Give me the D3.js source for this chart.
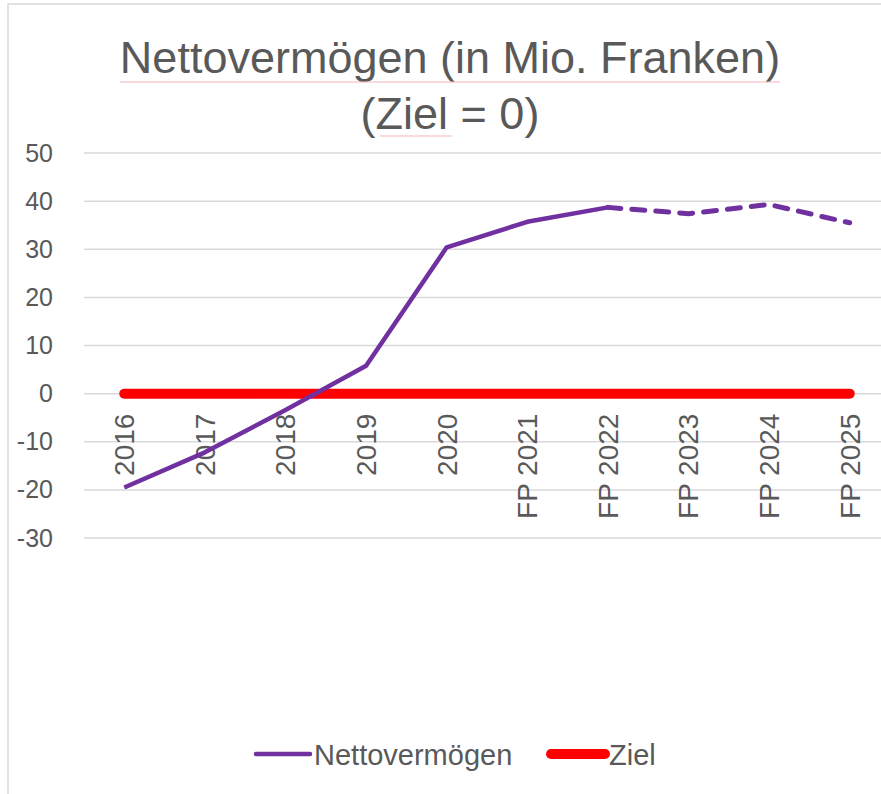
<!DOCTYPE html>
<html>
<head>
<meta charset="utf-8">
<script src="https://cdn.jsdelivr.net/npm/d3@7"></script>
<style>
  body { margin: 0; background: #fff; }
  text { font-family: "Liberation Sans", Arial, sans-serif; fill: #595959; }
</style>
</head>
<body>
<svg></svg>
<script>
/* data */
var categories = ['2016', '2017', '2018', '2019', '2020',
                  'FP 2021', 'FP 2022', 'FP 2023', 'FP 2024', 'FP 2025'];
var nettovermoegen = [-19.5, -12.2, -3.4, 5.8, 30.4, 35.7, 38.7, 37.4, 39.3, 35.5];
var ziel = [0, 0, 0, 0, 0, 0, 0, 0, 0, 0];
var yTicks = [-30, -20, -10, 0, 10, 20, 30, 40, 50];
var forecastStart = 6;  // from FP 2022 on the line is dashed

/* svg setting */
var svgWidth = 881;
var svgHeight = 794;
var margin = {top: 153, right: -9, bottom: 256, left: 84};
var width = svgWidth - margin.left - margin.right;
var height = svgHeight - margin.top - margin.bottom;
var scale = {};

var svg = d3.select('svg')
    .attr('width', svgWidth)
    .attr('height', svgHeight);

/* chart frame */
svg.append('path')
    .attr('d', 'M8,794 L8,4 L881,4')
    .attr('fill', 'none')
    .attr('stroke', '#d9d9d9')
    .attr('stroke-width', 1.5);

var g = svg.append('g')
    .attr('transform', translate(margin.left, margin.top));

setScale();
drawGrid();
drawAxis();
drawLines();
drawTitle();
drawLegend();

function setScale(){
  scale.x = d3.scalePoint()
      .domain(categories)
      .range([0, width])
      .padding(0.5);

  scale.y = d3.scaleLinear()
      .domain([-30, 50])
      .range([height, 0]);
}

function drawGrid(){
  g.selectAll('.grid')
      .data(yTicks)
      .enter()
      .append('line')
      .attr('class', 'grid')
      .attr('x1', 0)
      .attr('x2', width)
      .attr('y1', function(d){return scale.y(d)})
      .attr('y2', function(d){return scale.y(d)})
      .attr('stroke', '#d9d9d9')
      .attr('stroke-width', 1.5);
}

function drawAxis(){
  // plain hyphen for negatives, like the original
  var yAxis = g.append('g')
      .attr('class', 'y_axis')
      .call(d3.axisLeft(scale.y)
          .tickValues(yTicks)
          .tickFormat(function(d){return String(d)})
          .tickSize(0)
          .tickPadding(31));
  yAxis.select('.domain').remove();
  yAxis.selectAll('text')
      .attr('font-size', 25)
      .attr('font-family', null)
      .attr('fill', '#595959');

  // category labels sit rotated just under the zero line
  var xAxis = g.append('g')
      .attr('class', 'x_axis')
      .attr('transform', translate(0, scale.y(0) + 20));
  xAxis.selectAll('text')
      .data(categories)
      .enter()
      .append('text')
      .attr('transform', function(d){return translate(scale.x(d), 0) + ' rotate(-90)'})
      .attr('dy', '0.35em')
      .attr('x', 0)
      .attr('text-anchor', 'end')
      .attr('font-size', 28)
      .text(function(d){return d});
}

function drawLines(){
  var points = categories.map(function(c, i){
    return {x: c, y: nettovermoegen[i]};
  });
  var zielPoints = categories.map(function(c, i){
    return {x: c, y: ziel[i]};
  });
  var line = d3.line()
      .x(function(d){return scale.x(d.x)})
      .y(function(d){return scale.y(d.y)});

  g.append('path')
      .datum(zielPoints)
      .attr('d', line)
      .attr('fill', 'none')
      .attr('stroke', '#ff0000')
      .attr('stroke-width', 10)
      .attr('stroke-linecap', 'round');

  g.append('path')
      .datum(points.slice(0, forecastStart + 1))
      .attr('d', line)
      .attr('fill', 'none')
      .attr('stroke', '#7030a0')
      .attr('stroke-width', 4.5)
      .attr('stroke-linejoin', 'round');

  g.append('path')
      .datum(points.slice(forecastStart))
      .attr('d', line)
      .attr('fill', 'none')
      .attr('stroke', '#7030a0')
      .attr('stroke-width', 5)
      .attr('stroke-linecap', 'round')
      .attr('stroke-dasharray', '13,11');
}

function drawTitle(){
  var t1 = svg.append('text')
      .attr('x', 450)
      .attr('y', 73)
      .attr('text-anchor', 'middle')
      .attr('font-size', 45)
      .text('Nettovermögen (in Mio. Franken)');
  var t2 = svg.append('text')
      .attr('x', 450)
      .attr('y', 129)
      .attr('text-anchor', 'middle')
      .attr('font-size', 45)
      .text('(Ziel = 0)');

  // spell check underline
  var b1 = t1.node().getBBox();
  svg.append('line')
      .attr('x1', b1.x).attr('x2', b1.x + b1.width)
      .attr('y1', 82).attr('y2', 82)
      .attr('stroke', '#f3b3b3').attr('stroke-width', 1.2);
  svg.append('line')
      .attr('x1', 380).attr('x2', 452)
      .attr('y1', 136).attr('y2', 136)
      .attr('stroke', '#f3b3b3').attr('stroke-width', 1.2);
}

function drawLegend(){
  var legend = svg.append('g')
      .attr('transform', translate(0, 754));
  var items = [
    {name: 'Nettovermögen', color: '#7030a0', w: 4.5, x: 256},
    {name: 'Ziel', color: '#ff0000', w: 10, x: 551}
  ];
  var item = legend.selectAll('g')
      .data(items)
      .enter()
      .append('g')
      .attr('transform', function(d){return translate(d.x, 0)});
  item.append('line')
      .attr('x1', 0).attr('x2', 54)
      .attr('stroke', function(d){return d.color})
      .attr('stroke-width', function(d){return d.w})
      .attr('stroke-linecap', 'round');
  item.append('text')
      .attr('x', 58)
      .attr('y', 11)
      .attr('font-size', 29)
      .text(function(d){return d.name});
}

function translate(x, y) {
    return 'translate(' + x + ',' + y + ')';
}
</script>
</body>
</html>
